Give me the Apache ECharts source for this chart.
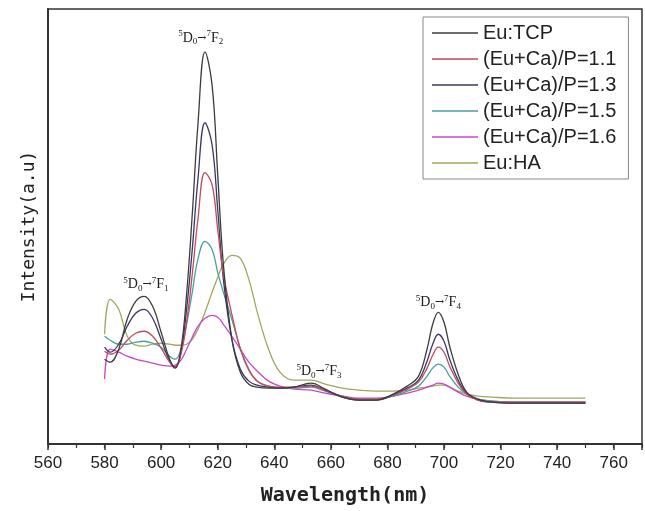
<!DOCTYPE html>
<html>
<head>
<meta charset="utf-8">
<script src="https://cdn.jsdelivr.net/npm/echarts@6/dist/echarts.min.js"></script>
<style>
  html, body { margin: 0; padding: 0; background: #fff; }
  #main { width: 645px; height: 511px; }
</style>
</head>
<body>
<div id="main"></div>
<script>
// wavelength (nm) shared by every curve
var wavelength = [580, 582, 585, 588, 591, 594, 597, 600, 603, 605, 607, 609, 611, 613, 615.5, 618, 620, 622, 625, 628,
  631, 634, 638, 642, 647, 653, 658, 664, 670, 676, 682, 687, 691, 694, 696, 698, 700, 702, 705, 708,
  712, 717, 725, 735, 750];

// intensities (a.u.)
var euTCP = [85, 82, 95, 125, 143, 148, 138, 112, 85, 77, 95, 150, 230, 320, 393, 360, 270, 180, 105, 72,
  60, 57, 56, 56, 57, 61, 55, 47, 44, 44, 50, 58, 68, 95, 120, 132, 122, 98, 70, 52,
  45, 42, 41, 41, 41];
var p11 = [93, 90, 94, 104, 111, 113, 108, 96, 82, 77, 90, 122, 170, 225, 272, 260, 215, 170, 130, 95,
  74, 63, 58, 57, 57, 58, 54, 48, 45, 45, 49, 55, 62, 76, 89, 97, 92, 78, 61, 50,
  44, 42, 42, 42, 42];
var p13 = [97, 92, 100, 118, 131, 135, 126, 105, 83, 76, 92, 135, 195, 265, 322, 300, 235, 165, 105, 75,
  63, 59, 57, 56, 57, 59, 54, 47, 44, 44, 49, 56, 64, 83, 100, 110, 103, 85, 64, 51,
  44, 42, 41, 41, 41];
var p15 = [108, 104, 100, 100, 102, 103, 101, 97, 88, 85, 95, 120, 152, 185, 203, 195, 172, 152, 125, 96,
  75, 63, 58, 56, 56, 57, 53, 48, 45, 45, 48, 53, 58, 68, 76, 80, 77, 68, 57, 50,
  45, 43, 42, 42, 42];
var p16 = [65, 95, 92, 88, 85, 83, 81, 79, 78, 79, 84, 95, 107, 118, 126, 129, 127, 120, 108, 95,
  82, 73, 63, 58, 55, 54, 51, 48, 46, 46, 48, 51, 54, 57, 59, 61, 60, 57, 52, 48,
  45, 43, 42, 42, 42];
var euHA = [110, 145, 135, 108, 99, 98, 100, 101, 100, 99, 99, 100, 105, 115, 132, 152, 167, 180, 189, 186,
  165, 132, 95, 72, 64, 64, 60, 56, 54, 53, 53, 54, 56, 57, 58, 59, 59, 57, 53, 50,
  48, 47, 46, 46, 46];

var seriesNames = ['Eu:TCP', '(Eu+Ca)/P=1.1', '(Eu+Ca)/P=1.3', '(Eu+Ca)/P=1.5', '(Eu+Ca)/P=1.6', 'Eu:HA'];
var seriesData = [euTCP, p11, p13, p15, p16, euHA];
var colors = ['#3c3c3c', '#c04a5e', '#37376a', '#4a9e9e', '#c848c8', '#a5a560'];

// transition labels: [wavelength, intensity, final level]
var transitions = [[614, 407, '2'], [594.6, 160, '1'], [655.8, 73, '3'], [698, 142, '4']];

var xTicks = [560, 770, 20];

function pairs(ys) {
  return ys.map(function (y, i) { return [wavelength[i], y]; });
}

var myChart = echarts.init(document.getElementById('main'));

var series = seriesNames.map(function (name, i) {
  return {
    name: name,
    type: 'line',
    data: pairs(seriesData[i]),
    smooth: 0.4,
    symbol: 'none',
    lineStyle: { color: colors[i], width: 1.3 },
    itemStyle: { color: colors[i] },
    z: 10 - i
  };
});

series[0].markPoint = {
  symbol: 'circle',
  symbolSize: 0,
  silent: true,
  label: {
    show: true,
    position: 'inside',
    color: '#222',
    fontFamily: 'Liberation Serif',
    rich: {
      s: { fontSize: 9, fontFamily: 'Liberation Serif', color: '#222', verticalAlign: 'top', lineHeight: 17 },
      m: { fontSize: 14, fontFamily: 'Liberation Serif', color: '#222', lineHeight: 17 },
      b: { fontSize: 9, fontFamily: 'Liberation Serif', color: '#222', verticalAlign: 'bottom', lineHeight: 17 },
      a: { fontSize: 11, fontFamily: 'DejaVu Serif', color: '#222', lineHeight: 17 }
    }
  },
  data: transitions.map(function (t) {
    return {
      coord: [t[0], t[1]],
      label: { formatter: '{s|5}{m|D}{b|0}{a|→}{s|7}{m|F}{b|' + t[2] + '}' }
    };
  })
};

myChart.setOption({
  animation: false,
  backgroundColor: '#fff',
  grid: {
    left: 48, right: 3, top: 9, bottom: 66,
    show: true,
    borderColor: '#333',
    borderWidth: 1.5
  },
  legend: {
    orient: 'vertical',
    left: 423,
    top: 17,
    data: seriesNames,
    icon: 'rect',
    itemWidth: 46,
    itemHeight: 1.5,
    itemGap: 6,
    padding: [6, 12, 6, 9],
    borderColor: '#888',
    borderWidth: 1,
    backgroundColor: '#fff',
    textStyle: { fontFamily: 'Liberation Sans', fontSize: 20, color: '#222', lineHeight: 20 }
  },
  xAxis: [{
    type: 'value',
    min: xTicks[0],
    max: xTicks[1],
    interval: xTicks[2],
    name: 'Wavelength(nm)',
    nameLocation: 'middle',
    nameGap: 42,
    nameTextStyle: { fontFamily: 'DejaVu Sans Mono', fontWeight: 'bold', fontSize: 20, color: '#222' },
    axisLine: { lineStyle: { color: '#333', width: 2 } },
    axisTick: { length: 6, lineStyle: { color: '#333', width: 1.5 } },
    axisLabel: {
      margin: 11,
      fontFamily: 'Liberation Sans',
      fontSize: 17,
      color: '#222',
      formatter: function (v) { return v === xTicks[1] ? '' : v; }
    },
    splitLine: { show: false }
  }, {
    type: 'value',
    position: 'bottom',
    min: xTicks[0],
    max: xTicks[1],
    interval: xTicks[2] / 2,
    axisLine: { show: false },
    axisTick: { length: 4, lineStyle: { color: '#333', width: 1.2 } },
    axisLabel: { show: false },
    splitLine: { show: false }
  }],
  yAxis: {
    type: 'value',
    min: 0,
    max: 436,
    name: 'Intensity(a.u)',
    nameLocation: 'middle',
    nameGap: 10,
    nameTextStyle: { fontFamily: 'DejaVu Sans Mono', fontSize: 18, color: '#222' },
    axisLine: { show: true, lineStyle: { color: '#333', width: 2 } },
    axisTick: { show: false },
    axisLabel: { show: false },
    splitLine: { show: false }
  },
  series: series
});
</script>
</body>
</html>
